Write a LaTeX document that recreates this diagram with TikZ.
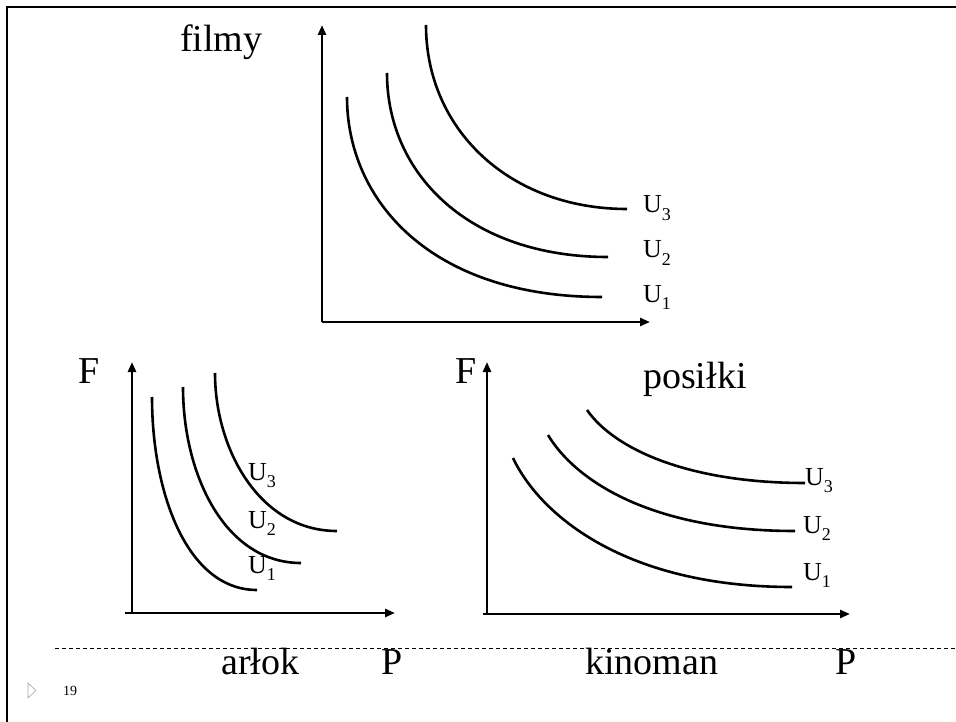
\documentclass[tikz,border=0pt]{standalone}
\usepackage{fontspec}
\setmainfont{Liberation Serif}
\usetikzlibrary{arrows.meta}
\begin{document}
\begin{tikzpicture}[x=1pt,y=-1pt,
  curve/.style={line width=2.6pt},
  axis/.style={line width=2.6pt,-{Triangle[length=10pt,width=8pt]}},
  big/.style={font=\fontsize{38}{38}\selectfont,anchor=base west,inner sep=0pt},
  ulab/.style={font=\fontsize{26}{26}\selectfont,anchor=base west,inner sep=0pt},
  frame/.style={line width=2.6pt}]
\useasboundingbox (0,0) rectangle (956,722);
\newcommand{\ulabel}[1]{U\raisebox{-0.28em}{\fontsize{18}{18}\selectfont #1}}
% frame
\draw[frame] (7,722) -- (7,7) -- (956,7);
\draw[line width=0.9pt,dash pattern=on 4pt off 3pt] (55,648) -- (956,648);
\draw[gray!70,line width=0.6pt] (28,683) -- (36,690.5) -- (28,698) -- cycle;
\node[font=\fontsize{14}{14}\selectfont,anchor=base west,inner sep=0pt] (num) at (63,695) {19};
% top chart
\coordinate (o1) at (322,322);
\coordinate (y1) at (322,25);
\coordinate (x1) at (650,322);
\draw[axis] (o1) -- (y1);
\draw[axis] (o1) -- (x1);
\draw[curve] (347,97) .. controls (347,200) and (430,297) .. (602,297);
\draw[curve] (387,73) .. controls (387,175) and (470,257) .. (608,257);
\draw[curve] (426,25) .. controls (426,130) and (510,209) .. (627,209);
\node[ulab] (t3) at (643,213) {\ulabel{3}};
\node[ulab] (t2) at (643,258) {\ulabel{2}};
\node[ulab] (t1) at (643,302) {\ulabel{1}};
\node[big] (filmy) at (180,52) {filmy};
% bottom-left chart
\coordinate (o2) at (132,613);
\coordinate (o2l) at (125,613);
\coordinate (y2) at (132,362);
\coordinate (x2) at (395,613);
\draw[axis] (o2) -- (y2);
\draw[axis] (o2l) -- (x2);
\draw[curve] (152,397) .. controls (152,493) and (187,590) .. (257,590);
\draw[curve] (183,387) .. controls (183,475) and (225,563) .. (301,563);
\draw[curve] (215,373) .. controls (215,450) and (260,531) .. (337,531);
\node[ulab] (l3) at (248,480) {\ulabel{3}};
\node[ulab] (l2) at (248,528) {\ulabel{2}};
\node[ulab] (l1) at (248,573) {\ulabel{1}};
\node[big] (F1) at (78,383) {F};
\node[big] (arlok) at (221,674) {arłok};
\node[big] (P1) at (381,674) {P};
% bottom-right chart
\coordinate (o3) at (487,614);
\coordinate (o3l) at (483,614);
\coordinate (y3) at (487,362);
\coordinate (x3) at (850,614);
\draw[axis] (o3) -- (y3);
\draw[axis] (o3l) -- (x3);
\draw[curve] (513,458) .. controls (540,515) and (625,587) .. (792,587);
\draw[curve] (548,435) .. controls (575,480) and (650,531) .. (795,531);
\draw[curve] (587,410) .. controls (615,450) and (690,483) .. (805,483);
\node[ulab] (r3) at (805,485) {\ulabel{3}};
\node[ulab] (r2) at (803,533) {\ulabel{2}};
\node[ulab] (r1) at (803,580) {\ulabel{1}};
\node[big] (F2) at (455,383) {F};
\node[big] (posilki) at (643,388) {posiłki};
\node[big] (kinoman) at (585,674) {kinoman};
\node[big] (P2) at (835,674) {P};
\end{tikzpicture}
\end{document}
